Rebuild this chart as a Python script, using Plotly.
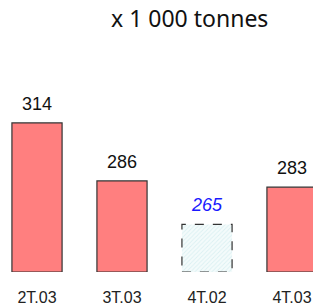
import plotly.graph_objects as go

categories = ["2T.03", "3T.03", "4T.02", "4T.03"]
values = [314, 286, 265, 283]
title_text = "x 1 000 tonnes"

bar_w = 0.59
solid_idx = [0, 1, 3]
ghost_idx = [2]
y_base = 242

fig = go.Figure()

fig.add_trace(go.Bar(
    x=solid_idx, y=[values[i] - y_base for i in solid_idx], base=y_base,
    width=bar_w, marker=dict(color="#ff7f7f", line=dict(color="#333333", width=1.2)),
    hoverinfo="skip", showlegend=False))

fig.add_trace(go.Bar(
    x=ghost_idx, y=[values[i] - y_base for i in ghost_idx], base=y_base,
    width=bar_w,
    marker=dict(color="#f4fbfb", line=dict(width=0),
                pattern=dict(shape="/", fgcolor="#c2e4e8", bgcolor="#f4fbfb", size=3, solidity=0.3)),
    hoverinfo="skip", showlegend=False))

# dashed outline for the comparison bar
for i in ghost_idx:
    x0, x1 = i - bar_w / 2, i + bar_w / 2
    fig.add_trace(go.Scatter(
        x=[x0, x1, x1, x0, x0], y=[y_base, y_base, values[i], values[i], y_base],
        mode="lines", line=dict(color="#333333", width=1.2, dash="dash"),
        hoverinfo="skip", showlegend=False))

for i, v in enumerate(values):
    ghost = i in ghost_idx
    fig.add_annotation(
        x=i, y=v, text=str(v), showarrow=False, yanchor="bottom", yshift=7,
        font=dict(family="Liberation Sans, Arial", size=18,
                  color="#1a1aff" if ghost else "#111111",
                  style="italic" if ghost else "normal"))

fig.add_annotation(
    xref="paper", yref="paper", x=189 / 313, y=1, yanchor="middle",
    yshift=-18, text=title_text, showarrow=False,
    font=dict(family="Noto Sans", size=23, color="#111111"))

fig.update_layout(
    width=313, height=308,
    margin=dict(l=0, r=0, t=0, b=36),
    paper_bgcolor="white", plot_bgcolor="white",
    xaxis=dict(range=[-37 / 85, 276 / 85], tickmode="array",
               tickvals=list(range(len(categories))), ticktext=categories,
               showgrid=False, zeroline=False, showline=False, ticks="",
               ticklabelstandoff=14,
               tickfont=dict(family="Liberation Sans, Arial", size=16, color="#222222")),
    yaxis=dict(range=[y_base, y_base + 272 / 2.07], visible=False, showgrid=False),
)

fig.write_html("out.html", config={"displayModeBar": False},
               post_script="document.body.style.margin='0px';")
